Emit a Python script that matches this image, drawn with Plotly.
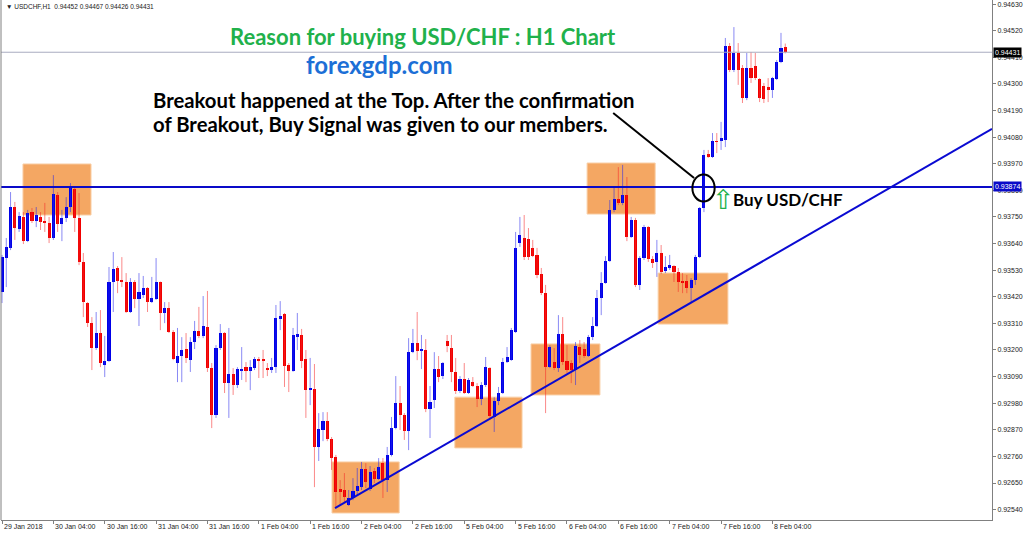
import plotly.graph_objects as go

# ---------------- data (USDCHF H1) ----------------
opens = [0.93440,0.93580,0.93622,0.93791,0.93700,0.93750,0.93650,0.93770,0.93733,0.93750,
0.93733,0.93725,0.93663,0.93841,0.93721,0.93746,0.93791,0.93865,0.93746,0.93564,
0.93394,0.93311,0.93208,0.93270,0.93138,0.93154,0.93481,0.93539,0.93485,0.93481,
0.93357,0.93481,0.93411,0.93427,0.93456,0.93398,0.93411,0.93481,0.93353,0.93373,
0.93274,0.93146,0.93175,0.93204,0.93158,0.93233,0.93278,0.93258,0.93295,0.93125,
0.92931,0.93208,0.93270,0.93063,0.93100,0.93055,0.93117,0.93129,0.93113,0.93125,
0.93163,0.93163,0.93125,0.93121,0.93129,0.93332,0.93349,0.93138,0.93113,0.93253,
0.93262,0.93163,0.93034,0.93038,0.92799,0.92869,0.92906,0.92832,0.92757,0.92625,
0.92621,0.92559,0.92588,0.92617,0.92633,0.92708,0.92625,0.92699,0.92666,0.92732,
0.92662,0.92766,0.92877,0.92981,0.92931,0.92865,0.93191,0.93229,0.93196,0.93200,
0.92956,0.92993,0.93121,0.93092,0.93237,0.93208,0.93109,0.93030,0.93080,0.93022,
0.93067,0.93051,0.92997,0.93055,0.93125,0.92923,0.92989,0.93022,0.93150,0.93158,
0.93274,0.93642,0.93663,0.93659,0.93622,0.93593,0.93514,0.93435,0.93129,0.93150,
0.93125,0.93266,0.93154,0.93146,0.93117,0.93212,0.93204,0.93175,0.93253,0.93299,
0.93415,0.93477,0.93568,0.93779,0.93824,0.93808,0.93841,0.93667,0.93737,0.93469,
0.93580,0.93708,0.93576,0.93564,0.93601,0.93526,0.93543,0.93547,0.93522,0.93485,
0.93485,0.93456,0.93489,0.93584,0.93787,0.94010,0.93998,0.94064,0.94064,0.94068,
0.94457,0.94358,0.94428,0.94366,0.94242,0.94366,0.94374,0.94320,0.94291,0.94287,
0.94275,0.94320,0.94391,0.94452]

highs = [0.93593,0.93663,0.93853,0.93812,0.93770,0.93770,0.93779,0.93787,0.93791,0.93770,
0.93808,0.93750,0.93923,0.93853,0.93779,0.93832,0.93890,0.93870,0.93849,0.93601,
0.93398,0.93336,0.93357,0.93365,0.93258,0.93543,0.93605,0.93547,0.93584,0.93518,
0.93497,0.93489,0.93518,0.93506,0.93460,0.93502,0.93580,0.93483,0.93398,0.93398,
0.93282,0.93291,0.93253,0.93270,0.93253,0.93320,0.93378,0.93423,0.93444,0.93146,
0.93220,0.93307,0.93274,0.93291,0.93125,0.93129,0.93212,0.93150,0.93158,0.93171,
0.93171,0.93200,0.93146,0.93167,0.93386,0.93402,0.93353,0.93146,0.93291,0.93353,
0.93287,0.93200,0.93167,0.93142,0.92939,0.92943,0.92943,0.92840,0.92766,0.92662,
0.92691,0.92621,0.92670,0.92712,0.92737,0.92732,0.92720,0.92712,0.92753,0.92753,
0.92799,0.92923,0.93092,0.93051,0.92939,0.93249,0.93287,0.93357,0.93262,0.93245,
0.93051,0.93191,0.93175,0.93150,0.93262,0.93262,0.93167,0.93092,0.93146,0.93084,
0.93088,0.93063,0.93067,0.93171,0.93129,0.93005,0.93047,0.93167,0.93212,0.93291,
0.93688,0.93750,0.93758,0.93704,0.93655,0.93622,0.93539,0.93469,0.93220,0.93208,
0.93344,0.93336,0.93220,0.93158,0.93233,0.93241,0.93233,0.93262,0.93336,0.93448,
0.93522,0.93588,0.93820,0.93874,0.93956,0.93965,0.93915,0.93750,0.93746,0.93588,
0.93717,0.93712,0.93588,0.93655,0.93634,0.93588,0.93593,0.93551,0.93539,0.93518,
0.93510,0.93497,0.93593,0.93791,0.94027,0.94027,0.94097,0.94097,0.94143,0.94490,
0.94469,0.94535,0.94469,0.94378,0.94428,0.94432,0.94428,0.94324,0.94304,0.94324,
0.94329,0.94399,0.94511,0.94467]

lows = [0.93394,0.93460,0.93613,0.93655,0.93688,0.93638,0.93646,0.93725,0.93708,0.93696,
0.93688,0.93642,0.93655,0.93688,0.93650,0.93729,0.93770,0.93688,0.93551,0.93336,
0.93295,0.93117,0.93200,0.93129,0.93088,0.93150,0.93357,0.93435,0.93460,0.93353,
0.93353,0.93373,0.93299,0.93415,0.93357,0.93394,0.93407,0.93282,0.93311,0.93270,
0.93158,0.93067,0.93067,0.93146,0.93109,0.93204,0.93249,0.93249,0.93109,0.92877,
0.92919,0.93200,0.93022,0.92919,0.93014,0.93043,0.93076,0.93067,0.93034,0.93117,
0.93084,0.93084,0.93092,0.93105,0.93105,0.93282,0.93047,0.93026,0.93110,0.93200,
0.93125,0.92919,0.92972,0.92633,0.92741,0.92823,0.92823,0.92704,0.92546,0.92559,
0.92571,0.92555,0.92579,0.92600,0.92621,0.92629,0.92617,0.92650,0.92662,0.92588,
0.92613,0.92760,0.92872,0.92869,0.92828,0.92786,0.93187,0.93158,0.93121,0.92943,
0.92836,0.92960,0.93067,0.93080,0.93191,0.93067,0.93018,0.93022,0.93018,0.93018,
0.93047,0.92964,0.92972,0.93047,0.92910,0.92861,0.92972,0.93018,0.93146,0.93155,
0.93270,0.93626,0.93572,0.93572,0.93584,0.93497,0.93427,0.92939,0.93125,0.93117,
0.93109,0.93138,0.93105,0.93063,0.93055,0.93146,0.93167,0.93171,0.93241,0.93295,
0.93344,0.93474,0.93564,0.93770,0.93799,0.93799,0.93650,0.93663,0.93460,0.93448,
0.93572,0.93564,0.93539,0.93502,0.93514,0.93518,0.93531,0.93481,0.93440,0.93435,
0.93435,0.93394,0.93469,0.93580,0.93770,0.93994,0.93994,0.94014,0.94027,0.94039,
0.94349,0.94349,0.94296,0.94221,0.94233,0.94304,0.94316,0.94225,0.94221,0.94225,
0.94242,0.94316,0.94386,0.94426]

closes = [0.93584,0.93626,0.93791,0.93704,0.93754,0.93650,0.93766,0.93733,0.93758,0.93729,
0.93725,0.93663,0.93845,0.93721,0.93746,0.93791,0.93870,0.93746,0.93564,0.93398,
0.93311,0.93208,0.93270,0.93146,0.93154,0.93481,0.93535,0.93485,0.93483,0.93357,
0.93481,0.93411,0.93440,0.93456,0.93398,0.93415,0.93481,0.93353,0.93373,0.93274,
0.93163,0.93175,0.93200,0.93167,0.93233,0.93278,0.93258,0.93299,0.93125,0.92931,
0.93208,0.93270,0.93063,0.93100,0.93055,0.93121,0.93121,0.93113,0.93129,0.93163,
0.93154,0.93154,0.93121,0.93129,0.93332,0.93340,0.93134,0.93113,0.93262,0.93266,
0.93154,0.93034,0.93043,0.92799,0.92873,0.92906,0.92832,0.92753,0.92613,0.92613,
0.92592,0.92588,0.92617,0.92637,0.92708,0.92654,0.92695,0.92666,0.92716,0.92662,
0.92766,0.92877,0.92981,0.92931,0.92865,0.93191,0.93229,0.93196,0.93204,0.92956,
0.92985,0.93121,0.93088,0.93146,0.93216,0.93109,0.93030,0.93080,0.93022,0.93076,
0.93051,0.92997,0.93055,0.93129,0.92927,0.92989,0.93022,0.93150,0.93171,0.93282,
0.93622,0.93675,0.93584,0.93584,0.93588,0.93510,0.93435,0.93129,0.93212,0.93125,
0.93266,0.93150,0.93117,0.93117,0.93216,0.93179,0.93175,0.93253,0.93299,0.93415,
0.93477,0.93568,0.93779,0.93824,0.93808,0.93841,0.93667,0.93737,0.93469,0.93580,
0.93708,0.93576,0.93559,0.93601,0.93522,0.93543,0.93551,0.93522,0.93481,0.93477,
0.93456,0.93489,0.93584,0.93787,0.94006,0.93998,0.94064,0.94060,0.94076,0.94457,
0.94358,0.94428,0.94358,0.94242,0.94366,0.94324,0.94324,0.94242,0.94238,0.94275,
0.94324,0.94391,0.94449,0.94431]

tick_index = [0, 12, 24, 36, 48, 60, 72, 84, 96, 108, 120, 132, 144, 156, 168, 180]
tick_labels = ["29 Jan 2018", "30 Jan 04:00", "30 Jan 16:00", "31 Jan 04:00", "31 Jan 16:00",
               "1 Feb 04:00", "1 Feb 16:00", "2 Feb 04:00", "2 Feb 16:00", "5 Feb 04:00",
               "5 Feb 16:00", "6 Feb 04:00", "6 Feb 16:00", "7 Feb 04:00", "7 Feb 16:00",
               "8 Feb 04:00"]
price_ticks = [0.92540, 0.92650, 0.92760, 0.92870, 0.92980, 0.93090, 0.93200, 0.93310,
               0.93420, 0.93530, 0.93640, 0.93750, 0.93860, 0.93970, 0.94080, 0.94190,
               0.94300, 0.94410, 0.94520, 0.94630]

breakout_level = 0.93874
current_price = 0.94431
# highlighted zones: (bar start, bar end, price low, price high)
zones_x0 = [4.9, 77.1, 105.8, 123.6, 136.7, 153.3]
zones_x1 = [20.8, 92.8, 121.5, 139.7, 152.6, 169.6]
zones_y0 = [0.93758, 0.92526, 0.92795, 0.93014, 0.93762, 0.93307]
zones_y1 = [0.93969, 0.92737, 0.93005, 0.93225, 0.93973, 0.93518]
# support trend line (bar, price)
trend_x = [77.8, 231.3]
trend_y = [0.92546, 0.94114]
# breakout marker (ellipse box) and pointer line
circle_x = [161.3, 166.5]
circle_y = [0.93814, 0.93926]
pointer_x = [142.8, 161.7]
pointer_y = [0.94180, 0.93911]

symbol = "USDCHF,H1"

# ---------------- figure ----------------
BLUE = "#0000e8"
RED = "#f00000"

n = len(opens)
xs = list(range(n))
up = [c >= o for o, c in zip(opens, closes)]

fig = go.Figure()

for is_up, body_col, wick_col in [(True, BLUE, "rgba(40,40,235,0.55)"),
                                  (False, RED, "rgba(245,40,40,0.55)")]:
    wx, wy = [], []
    bx, bbase, bh = [], [], []
    for i in xs:
        if up[i] != is_up:
            continue
        wx += [i, i, None]
        wy += [lows[i], highs[i], None]
        bx.append(i)
        bbase.append(min(opens[i], closes[i]))
        bh.append(max(abs(closes[i] - opens[i]), 0.00003))
    fig.add_trace(go.Scatter(x=wx, y=wy, mode="lines",
                             line=dict(color=wick_col, width=1),
                             hoverinfo="skip", showlegend=False))
    fig.add_trace(go.Bar(x=bx, y=bh, base=bbase, width=0.72,
                         marker=dict(color=body_col, line=dict(width=0)),
                         showlegend=False, hoverinfo="skip"))

shapes = []
for a, b, c, d in zip(zones_x0, zones_x1, zones_y0, zones_y1):
    shapes.append(dict(type="rect", xref="x", yref="y", x0=a, x1=b, y0=c, y1=d,
                       fillcolor="#f4a763", line=dict(color="#f9cfa6", width=1),
                       layer="below"))
shapes.append(dict(type="line", xref="paper", yref="y", x0=0, x1=1,
                   y0=current_price, y1=current_price,
                   line=dict(color="#a8acc0", width=1)))
shapes.append(dict(type="line", xref="paper", yref="y", x0=0, x1=1,
                   y0=breakout_level, y1=breakout_level,
                   line=dict(color="#0a0ac8", width=2)))
shapes.append(dict(type="line", xref="x", yref="y", x0=trend_x[0], x1=trend_x[1],
                   y0=trend_y[0], y1=trend_y[1],
                   line=dict(color="#0a0ad2", width=2)))
shapes.append(dict(type="circle", xref="x", yref="y", x0=circle_x[0], x1=circle_x[1],
                   y0=circle_y[0], y1=circle_y[1], line=dict(color="black", width=2)))
shapes.append(dict(type="line", xref="x", yref="y", x0=pointer_x[0], x1=pointer_x[1],
                   y0=pointer_y[0], y1=pointer_y[1], line=dict(color="black", width=2)))
shapes.append(dict(type="line", xref="paper", yref="paper", x0=0, x1=0, y0=0, y1=1,
                   line=dict(color="#808080", width=1)))

annotations = []
small = dict(family="Liberation Sans, Arial", size=7, color="#222222")
for idx, lab in zip(tick_index, tick_labels):
    annotations.append(dict(x=idx, xref="x", y=0, yref="paper", text=lab,
                            showarrow=False, xanchor="left", yanchor="top",
                            yshift=-1, font=small))
annotations.append(dict(x=0, xref="paper", y=1, yref="paper",
                        text="▼ %s  %.5f %.5f %.5f %.5f" % (symbol, opens[-1], highs[-1], lows[-1], closes[-1]),
                        showarrow=False, xanchor="left", yanchor="top", xshift=3, yshift=-1,
                        font=dict(family="Liberation Sans, Arial", size=6.5, color="#222222")))
annotations.append(dict(x=1, xref="paper", y=current_price, yref="y",
                        text="%.5f" % current_price, showarrow=False, xanchor="left",
                        xshift=1, bgcolor="black", borderpad=1,
                        font=dict(family="Liberation Sans, Arial", size=7, color="white")))
annotations.append(dict(x=1, xref="paper", y=breakout_level, yref="y",
                        text="%.5f" % breakout_level, showarrow=False, xanchor="left",
                        xshift=1, bgcolor="#0a0ac8", borderpad=1,
                        font=dict(family="Liberation Sans, Arial", size=7, color="white")))


def px_x(p):
    return (p - 1) / 991


def px_y(p):
    return 1 - p / 520


annotations.append(dict(x=px_x(422.5), xref="paper", y=px_y(37), yref="paper",
                        xanchor="center", yanchor="middle",
                        text="<b>Reason for buying USD/CHF : H1 Chart</b>", showarrow=False,
                        font=dict(family="Lato", size=22, color="#21b14b")))
annotations.append(dict(x=px_x(379), xref="paper", y=px_y(64), yref="paper",
                        xanchor="center", yanchor="middle",
                        text="<b>forexgdp.com</b>", showarrow=False,
                        font=dict(family="Lato", size=24, color="#1c6fd6")))
line_font = dict(family="Lato", size=20.3, color="black")
annotations.append(dict(x=px_x(151), xref="paper", y=px_y(100), yref="paper",
                        text="<b>Breakout happened at the Top. After the confirmation</b>",
                        showarrow=False, xanchor="left", yanchor="middle", font=line_font))
annotations.append(dict(x=px_x(151), xref="paper", y=px_y(124), yref="paper",
                        text="<b>of Breakout, Buy Signal was given to our members.</b>",
                        showarrow=False, xanchor="left", yanchor="middle", font=line_font))
annotations.append(dict(x=px_x(710), xref="paper", y=px_y(199), yref="paper",
                        text="⇧", showarrow=False, xanchor="left", yanchor="middle",
                        font=dict(family="DejaVu Sans", size=27, color="#22b14c")))
annotations.append(dict(x=px_x(731), xref="paper", y=px_y(199), yref="paper",
                        text="<b>Buy USD/CHF</b>", showarrow=False, xanchor="left",
                        yanchor="middle",
                        font=dict(family="Lato", size=17, color="black")))

fig.update_layout(
    width=1024, height=533,
    margin=dict(l=1, r=32, t=0, b=13),
    paper_bgcolor="white", plot_bgcolor="white",
    barmode="overlay", bargap=0,
    showlegend=False,
    shapes=shapes, annotations=annotations,
    xaxis=dict(range=[-0.234, 231.3], showgrid=False, zeroline=False,
               showline=True, linecolor="#808080", linewidth=1,
               tickvals=tick_index, ticks="outside", ticklen=3, tickcolor="#808080",
               showticklabels=False, fixedrange=True),
    yaxis=dict(range=[0.92497, 0.94647], side="right", showgrid=False, zeroline=False,
               showline=True, linecolor="#808080", linewidth=1,
               tickvals=price_ticks, ticktext=["%.5f" % v for v in price_ticks],
               ticks="outside", ticklen=3, tickcolor="#808080",
               tickfont=dict(family="Liberation Sans, Arial", size=7, color="#222222"),
               fixedrange=True),
)

fig.write_html("out.html", config={"displayModeBar": False},
               post_script="document.body.style.margin='0';document.body.style.overflow='hidden';")
